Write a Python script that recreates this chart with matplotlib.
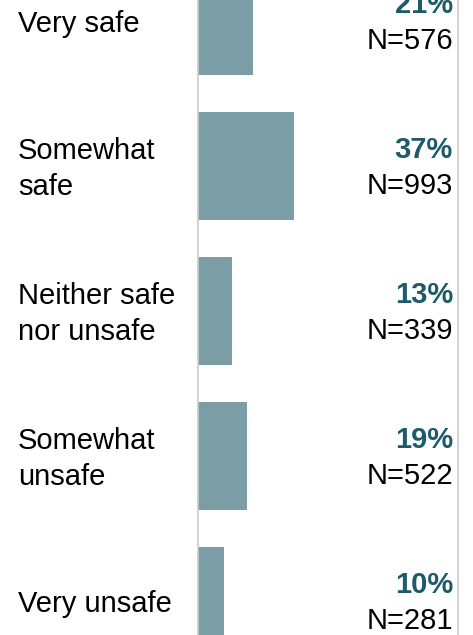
import matplotlib
matplotlib.use("Agg")
import matplotlib.pyplot as plt

categories = ["Very safe", "Somewhat\nsafe", "Neither safe\nnor unsafe", "Somewhat\nunsafe", "Very unsafe"]
percents = [21, 37, 13, 19, 10]
counts = [576, 993, 339, 522, 281]

bar_color = "#7B9DA5"
pct_color = "#1D5B6A"
line_color = "#CCCCCC"
font = ["Liberation Sans", "DejaVu Sans"]
fs = 21

fig = plt.figure(figsize=(4.73, 6.35), dpi=100)
ax = fig.add_axes([198 / 473, 0, (458 - 198) / 473, 1])

ypos = list(range(len(categories)))
ax.barh(ypos, percents, height=0.745, color=bar_color, zorder=2)
ax.set_xlim(0, 100)
ax.set_ylim(4.234, -0.1448)

for s in ["top", "bottom"]:
    ax.spines[s].set_visible(False)
for s in ["left", "right"]:
    ax.spines[s].set_color(line_color)
    ax.spines[s].set_linewidth(1.2)
ax.set_xticks([])
ax.set_yticks([])

trans_left = matplotlib.transforms.blended_transform_factory(fig.transFigure, ax.transData)
for y, cat, p, n in zip(ypos, categories, percents, counts):
    ax.text(18 / 473, y + 0.02, cat, transform=trans_left, ha="left", va="center",
            fontsize=fs, family=font, color="#000000", linespacing=1.34)
    ax.text(453 / 473, y - 0.11, f"{p}%", transform=trans_left, ha="right", va="center",
            fontsize=fs, family=font, color=pct_color, fontweight="bold")
    ax.text(453 / 473, y + 0.14, f"N={n}", transform=trans_left, ha="right", va="center",
            fontsize=fs, family=font, color="#000000")

fig.savefig("out.png", dpi=100)
